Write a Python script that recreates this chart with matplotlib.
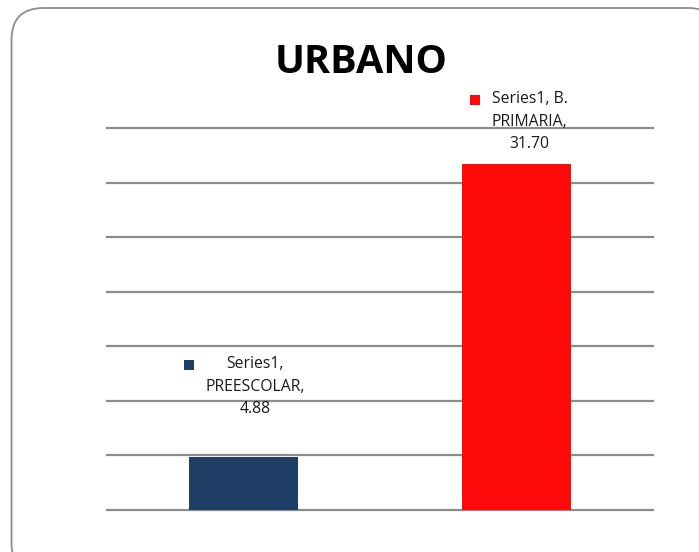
import matplotlib
matplotlib.use('Agg')
import matplotlib.pyplot as plt
from matplotlib.patches import FancyBboxPatch, Rectangle
from matplotlib.transforms import IdentityTransform

series = 'Series1'
categories = ['PREESCOLAR', 'B. PRIMARIA']
values = [4.88, 31.70]
bar_colors = ['#203f66', '#ff0a0a']
label_texts = [f'{series},\n{categories[0]},\n{values[0]:.2f}',
               f'{series}, B.\nPRIMARIA,\n{values[1]:.2f}']

plt.rcParams['font.family'] = ['Open Sans', 'DejaVu Sans']

fig = plt.figure(figsize=(6.99, 5.52), dpi=100)

# rounded chart border, partly off the canvas on the right and bottom
border = FancyBboxPatch((11.5, -23), 709, 567, boxstyle='round,pad=0,rounding_size=32',
                        transform=IdentityTransform(), facecolor='white',
                        edgecolor='#8c8c8c', linewidth=1.3, zorder=0)
fig.add_artist(border)

ax = fig.add_axes([0.1531, 0.0761, 0.7811, 0.692])
ax.patch.set_alpha(0)
xs = range(len(categories))
ax.bar(xs, values, width=0.4, color=bar_colors, zorder=3)

ax.set_xlim(-0.5, 1.5)
ax.set_ylim(0, 35)
ax.set_yticks(range(0, 36, 5))
ax.yaxis.grid(True, color='#8c8c8c', linewidth=1.6, zorder=1)
for gl in ax.get_ygridlines():
    gl.set_clip_on(False)
ax.tick_params(left=False, bottom=False, labelleft=False, labelbottom=False)
for s in ax.spines.values():
    s.set_visible(False)

fig.text(0.517, 0.886, 'URBANO', ha='center', va='center', fontsize=28.5,
         fontweight='bold')

# data labels (offsets in points, as placed in the original)
offsets = [(8.6, 50.5), (9.4, 30.5)]
labels = []
for x, v, txt, off in zip(xs, values, label_texts, offsets):
    t = ax.annotate(txt, (x, v), xytext=off, textcoords='offset points',
                    ha='center', va='center', multialignment='center',
                    fontsize=11.3, color='#1a1a1a', linespacing=1.55, zorder=4)
    labels.append(t)

fig.canvas.draw()
r = fig.canvas.get_renderer()
for t, c in zip(labels, bar_colors):
    bb = t.get_window_extent(r)
    cx = bb.x0 - 17
    cy = bb.y1 - 9
    fig.add_artist(Rectangle((cx - 5, cy - 5), 10, 10, transform=IdentityTransform(),
                             facecolor=c, edgecolor='none'))

fig.savefig('out.png', dpi=100)
